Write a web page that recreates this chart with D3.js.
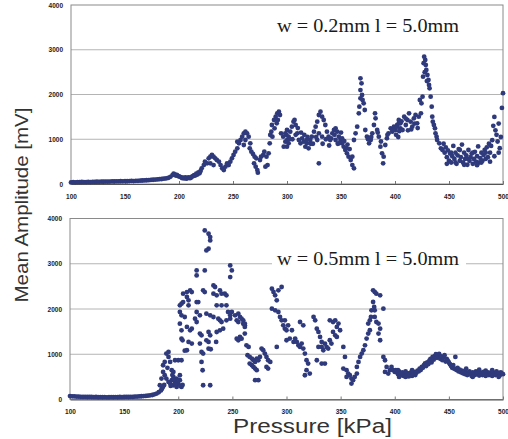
<!DOCTYPE html>
<html>
<head>
<meta charset="utf-8">
<script src="https://cdn.jsdelivr.net/npm/d3@7"></script>
<style>
  body { margin: 0; background: #fff; }
</style>
</head>
<body>
<script>
// axis ticks and texts
var xTicks = [100, 150, 200, 250, 300, 350, 400, 450, 500];
var yTicks = [0, 1000, 2000, 3000, 4000];
var yTitle = "Mean Amplitude [mV]";
var xTitle = "Pressure [kPa]";
var topLabel = "w = 0.2mm l = 5.0mm";
var bottomLabel = "w = 0.5mm l = 5.0mm";

// [pressure kPa, mean amplitude mV]
var topData = [
  [100,35],[102,40],[104,38],[106,42],[108,40],[110,45],[112,42],[114,44],[116,46],[118,44],
  [120,48],[122,46],[124,50],[126,48],[128,52],[130,50],[132,54],[134,52],[136,55],[138,58],
  [140,56],[142,60],[144,58],[146,62],[148,60],[150,64],[152,62],[154,66],[156,68],[158,66],
  [160,70],[162,72],[164,75],[166,78],[168,80],[170,84],[172,86],[174,90],[176,95],[178,98],
  [180,102],[182,108],[184,112],[186,118],[188,125],[190,135],
  [192,160],[194,200],[195,230],[196,215],[197,190],[198,205],[199,180],[200,170],[201,160],[202,150],
  [203,130],[204,140],[205,125],[206,145],[207,120],[208,135],[209,150],[210,130],[211,140],[212,165],
  [213,175],[214,200],[215,190],[216,230],[217,210],[218,260],[219,240],[220,290],
  [221,350],[223,424],[224,499],[226,462],[227.5,573],[229,610],[230.5,648],[232,610],[233.5,573],[235,536],
  [229,462],[232,424],[237,499],[238.5,424],[240,350],[241.5,312],[243,387],[244.5,462],[246,424],[247.5,499],
  [249,573],[250.5,648],[252,722],[254,797],[254,946],[255.5,908],[257,983],[258.5,1057],[260,1132],[261.5,1169],
  [263,1132],[264.5,1057],[261.5,983],[260,871],[266,908],[265.5,797],[267,722],[268.5,670],[270,610],[271.5,573],
  [269.5,462],[271,387],[272.5,312],[273,253],[275,536],[276,610],[278,648],[279,722],[281,610],[282,424],
  [280,387],[283,685],[284,908],[284.5,1095],[285.5,1169],[286,1318],[288,1430],[289.5,1505],[291,1579],[292.5,1616],
  [293.5,1542],[291.5,1430],[290.5,1355],[288.5,1244],[286.5,1057],[294.5,1132],[296.5,1057],[298.5,946],[300,834],[301.5,908],
  [297,834],[299.5,1095],
  [298.5,1132],[300,1207],[301.5,1057],[303,1169],[304.5,1281],[306,1393],[307,1430],[308,1318],[309.5,1132],[311,983],
  [312.5,908],[314,1020],[315.5,946],[317,834],[318.5,908],[320,797],[321.5,983],[323,1057],[325,1169],[326.5,1281],
  [328,1393],[329.5,1542],[331,1616],[332.5,1505],[334,1430],[335.5,1318],[329.5,1132],[332.5,1057],[328,983],[329.5,462],
  [337,1169],[338.5,1057],[340,983],[342,1132],[343.5,1207],[345,1244],[346.5,1169],[348,1057],[349.5,983],[351,908],
  [352.5,834],[354,760],[345,983],[348,908],[351,1020],[355.5,685],[357,610],[359,536],[360.5,424],[362,350],
  [360.5,610],[362,983],[363.5,1132],[365,1281],[366.5,1579],[367,1728],[368,1914],[368,2100],[369,2250],[368,2361],
  [369.5,1989],[370,1877],[371,1803],[372,1654],[372.5,1207],[374,1057],[376,908],[377.5,983],[379,1132],[380.5,1318],
  [381.5,1579],[382,1467],[383.5,1207],[385,1057],[386.5,834],[388,685],[389,462],[389.5,610],[391,871],[392.5,1020],
  [394,1132],[396,1244],[397.5,1169],[399,1281],[400.5,1207],[402,1318],[403.5,1355],[405,1244],
  [305,1000],[313,1150],[319,1050],[324,900],[333,900],[336,1000],[339,860],[344,1100],[350,1150],[353,960],
  [356,880],[358,780],[300,980],[310,1250],[316,1100],
  [302,1000],[308,1100],[318,980],[322,900],[327,1050],[341,1020],[347,900],[355,800],[375,1000],[378,1050],
  [384,1150],[387,950],[393,1100],[398,1200],
  [402,1281],[403.5,1430],[405,1355],[407,1207],[408.5,1505],[410,1318],[411.5,1430],[413,1579],[414.5,1393],[416,1281],
  [417.5,1467],[419,1542],[420.5,1355],[422,1505],[424,1579],[423,1877],[424.5,1803],[425.5,1952],[426,2399],[427,2845],
  [428,2771],[428.5,2659],[429,2548],[430,2436],[431,2324],[431.5,2212],[432,2138],[433,1952],[434,1728],[434.5,1505],
  [435,1393],[436,1318],[437,1244],[437.5,1132],[438.5,1057],[439,983],[441,908],[442.5,797],[444,760],
  [401,1100],[403,1050],[404,1180],[410,1460],[415,1220],[418,1350],[421,1250],[412,1200],[406,1400],
  [426.5,2700],[429.5,2300],[427.5,2500],
  [445,900],[446,700],[447,820],[448,600],[449,750],[450,520],[451,680],[452,480],[453,620],[454,850],
  [455,560],[456,700],[457,450],[458,640],[459,780],[460,520],[461,600],[462,880],[463,480],[464,700],
  [465,560],[466,640],[467,430],[468,760],[469,520],[470,600],[471,680],[472,450],[473,560],[474,720],
  [475,500],[476,620],[477,840],[478,480],[479,580],[480,700],[481,520],[482,650],[483,760],[484,560],
  [485,820],[486,600],[487,900],[488,700],[489,850],[490,980],[491,1300],[492,1500],[493,1200],[494,1100],
  [495,950],[496,1350],[497,800],[498,1050],[499,1700],[500,2030],
  [448,450],[452,700],[456,480],[460,760],[464,430],[468,560],[472,700],[476,420],[480,480],[484,700],
  [488,500],[492,620],[496,700]
];

// [pressure kPa, mean amplitude mV]
var bottomData = [
  [100,75],[102,70],[104,68],[106,65],[108,62],[110,60],[112,58],[114,60],[116,55],[118,58],
  [120,55],[122,52],[124,55],[126,50],[128,52],[130,50],[132,52],[134,48],[136,50],[138,52],
  [140,50],[142,53],[144,50],[146,55],[148,52],[150,55],[152,58],[154,55],[156,60],[158,58],
  [160,62],[162,65],[164,68],[166,72],[168,75],[170,80],[172,85],[174,92],[176,100],[178,115],
  [180,130],[182,160],[184,200],[185,240],[186,280],[187,320],
  [183,315],[184.5,462],[186,609],[186,757],[187.5,830],[189,1014],[191,1051],[191,941],[192.5,830],[194,646],
  [189,462],[191,389],[192.5,352],[194,426],[195.5,499],[195.5,315],[197,389],[198.5,462],[198.5,278],[200,352],
  [201.5,426],[200,867],[197,867],[203,278],[201.5,536],[203,867],[195.5,609],[187.5,536],
  [193,300],[196,450],[199,380],[197.5,320],[194.5,540],[190,700],[202,300],[204,320],
  [201.5,2081],[203,2118],[201.5,1934],[203,1860],[201.5,1676],[203,1529],[203,1345],[204,1308],[204.5,2338],[204.5,2154],
  [208,2375],[208,2265],[209.5,2191],[209.5,2081],[211,2412],[212.5,2375],[206,1823],[208,1603],[211,1529],[212.5,1566],
  [209.5,1272],[212.5,1235],[208,1088],[206,1080],[217,2853],[217,2743],[217,2154],[218.5,2154],[217,1934],[220,1860],
  [215.5,1787],[217,1713],[220,1456],[221.5,1419],[220,1235],[221.5,1051],[223,1014],[221.5,830],[222.5,646],[223,315],
  [224.5,3736],[228,3663],[229.5,3589],[229.5,3515],[228,3332],[226,3295],[224.5,2853],[223,2412],[224.5,2375],[226,1897],
  [229.5,1860],[232.5,1823],[228,1492],[229.5,1419],[226,1308],[228,1272],[228,1124],[230,1110],[229.5,315],[232.5,2522],
  [234,2486],[232.5,2338],[235.5,2302],[235.5,2081],[237,1787],[235.5,1492],[235,1272],[238.5,2412],[240,2338],[240,2081],
  [238.5,1750],[240,1713],[238.5,1529],[241.5,1566],[243,2338],[244.5,2302],[244.5,2081],[246,1934],[248,1860],[248,2964],
  [249.5,2853],[248,2706],[244.5,1750],[248,1787],[249.5,1934],[252.5,1860],[254,1750],[255.5,1713],[254,1345],[255.5,1308],
  [257,1382],[258.5,1345],[260,1676],[261.5,1640],[261.5,1456],
  [255.5,1897],[257,1824],[258.5,1787],[260,1750],[261.5,1677],[261.5,1603],[263,1198],[265,1162],[264,978],[266,941],
  [268,904],[269.5,867],[271,831],[272.5,904],[274,867],[275.5,941],[277,1125],[278.5,1088],[280,1014],[281.5,941],
  [283,867],[285,831],[283,683],[266,794],[268,757],[269.5,720],[271,683],[272.5,647],[271,426],[274,426],
  [281.5,720],[291,1162],[286.5,2449],[288,2376],[289.5,2302],[291,2192],[292.5,2412],[295.5,2486],[286.5,2008],[289.5,1971],
  [292.5,1934],[294,1824],[295.5,1750],[297,1640],[298.5,1566],[300,1530],
  [298.5,1750],[301.5,1640],[305,1530],[303,1346],[306.5,1272],[300,1309],[308,1346],[309.5,1272],[311,1198],[312.5,1162],
  [314,1235],[315.5,1125],[312.5,1713],[315.5,1640],[317,1014],[318.5,867],[320,794],[318.5,647],[321.5,573],[317,536],
  [325,1824],[326.5,1750],[328,1566],[329.5,1493],[331,1382],[332.5,1272],[329.5,1162],[332.5,1162],[335.5,1235],[334,1088],
  [337,1162],[328,867],[332.5,794],[335.5,794],[340,1750],[343,1713],[345,1750],[348,1677],[346.5,1603],[349.5,1530],
  [343,1493],[345,1419],[340,1309],[341.5,1235],[346.5,1382],[338.5,1125],[352.5,1162],[352.5,683],[355.5,647],[357,573],
  [358.5,536],[360,463],[361.5,426],[363,500],[360,352],[355.5,500],[365,573],[354,941],[365,720],[366.5,831],
  [368,941],[369.5,1014],[371,1088],[372.5,1198],[374,1346],[375.5,1456],[377,1530],[375.5,1677],[377,1750],[378,1824],
  [378.5,1971],[380,2412],[381.5,2376],[383,2339],[386.5,2302],[380,2155],[381,2045],[381.5,1971],[389.5,2008],[381.5,1824],
  [383,1713],[385,1677],[386.5,1566],[385,1456],[386.5,1309],[389.5,941],[391,867],[392.5,720],[395.5,647],[391,610],
  [394,573],[397,720],[398.5,647],[400,610],[403,647],
  [401,650],[402,600],[403,560],[404,620],[405,580],[406,540],[407,600],[408,520],[409,560],[410,500],
  [411,540],[412,580],[413,510],[414,550],[415,600],[416,520],[417,560],[418,610],[419,540],[420,590],
  [421,640],[422,620],[423,680],[424,650],[425,720],[426,700],[427,760],[428,800],[429,740],[430,820],
  [431,780],[432,860],[433,900],[434,820],[435,940],[436,880],[437,960],[438,1000],[439,920],[440,980],
  [441,1010],[442,900],[443,950],[444,870],[445,930],[446,980],[447,840],[448,900],[449,860],[450,820],
  [451,780],[452,740],[453,700],[454,760],[455,680],[456,940],[457,650],[458,700],[459,620],[460,660],
  [461,600],[462,640],[463,580],[464,620],[465,560],[466,600],[467,540],[468,580],[469,620],[470,560],
  [471,520],[472,600],[473,580],[474,540],[475,620],[476,560],[477,590],[478,530],[479,600],[480,570],
  [481,540],[482,610],[483,560],[484,520],[485,580],[486,600],[487,540],[488,590],[489,560],[490,520],
  [491,600],[492,570],[493,540],[494,620],[495,560],[496,590],[497,530],[498,600],[499,570],[500,560],
  [404,500],[410,620],[416,650],[466,680],[472,500],[478,660],[484,640],[490,650],[496,500]
];

var width = 508, height = 439;
var dotColor = "#2f3a7c";

var svg = d3.select("body")
    .append("svg")
        .attr("width", width)
        .attr("height", height);

function styleTicks(sel) {
    sel.selectAll("text")
        .style("font-family", "'Liberation Sans', Arial, sans-serif")
        .style("font-weight", "bold")
        .style("font-size", "6.5px")
        .style("fill", "#222");
}

function drawPanel(data, label, left, right, top, bottom, labelBase) {
    var x = d3.scaleLinear().domain([100, 500]).range([left, right]);
    var y = d3.scaleLinear().domain([0, 4000]).range([bottom, top]);
    var g = svg.append("g");

    // horizontal grid lines
    g.selectAll("line.grid")
        .data(yTicks.filter(function(d) { return d > 0 && d < 4000; }))
        .enter()
        .append("line")
            .attr("class", "grid")
            .attr("x1", left).attr("x2", right)
            .attr("y1", function(d) { return y(d); })
            .attr("y2", function(d) { return y(d); })
            .style("stroke", "#b4b4b4")
            .style("stroke-width", 1);

    // frame
    g.append("rect")
        .attr("x", left).attr("y", top)
        .attr("width", right - left).attr("height", bottom - top)
        .style("fill", "none")
        .style("stroke", "#8a8a8a");

    // label with white box behind it
    g.append("rect")
        .attr("x", 272).attr("y", labelBase - 17)
        .attr("width", 194).attr("height", 22)
        .style("fill", "#fff");
    g.append("text")
        .attr("x", 277).attr("y", labelBase)
        .attr("textLength", 182)
        .attr("lengthAdjust", "spacingAndGlyphs")
        .style("font-family", "'Liberation Serif', 'Times New Roman', serif")
        .style("font-size", "18px")
        .style("fill", "#1a1a1a")
        .text(label);

    // axes
    var xAxis = d3.axisBottom(x).tickValues(xTicks).tickFormat(d3.format("d"))
        .tickSizeInner(-3).tickSizeOuter(0).tickPadding(10);
    var yAxis = d3.axisLeft(y).tickValues(yTicks).tickFormat(d3.format("d"))
        .tickSize(0).tickPadding(8);

    var gx = g.append("g").attr("transform", "translate(0," + bottom + ")").call(xAxis);
    gx.select(".domain").style("stroke", "#555");
    gx.selectAll(".tick line").style("stroke", "#777");
    styleTicks(gx);

    var gy = g.append("g").attr("transform", "translate(" + left + ",0)").call(yAxis);
    gy.select(".domain").remove();
    styleTicks(gy);

    // points
    g.append("g")
        .selectAll("circle")
        .data(data)
        .enter()
        .append("circle")
            .attr("cx", function(d) { return x(d[0]); })
            .attr("cy", function(d) { return y(d[1]); })
            .attr("r", 2.4)
            .style("fill", dotColor);
}

drawPanel(topData, topLabel, 71, 503, 5, 184, 32);
drawPanel(bottomData, bottomLabel, 70, 503, 218.5, 399.5, 265);

svg.append("text")      // y-axis title
    .attr("transform", "translate(28,205) rotate(-90)")
    .attr("textLength", 195)
    .attr("lengthAdjust", "spacingAndGlyphs")
    .style("text-anchor", "middle")
    .style("font-family", "'Liberation Sans', Arial, sans-serif")
    .style("font-size", "19px")
    .style("fill", "#333")
    .text(yTitle);

svg.append("text")      // x-axis title
    .attr("x", 312.5)
    .attr("y", 433)
    .attr("textLength", 159)
    .attr("lengthAdjust", "spacingAndGlyphs")
    .style("text-anchor", "middle")
    .style("font-family", "'Liberation Sans', Arial, sans-serif")
    .style("font-size", "20px")
    .style("fill", "#333")
    .text(xTitle);
</script>
</body>
</html>
